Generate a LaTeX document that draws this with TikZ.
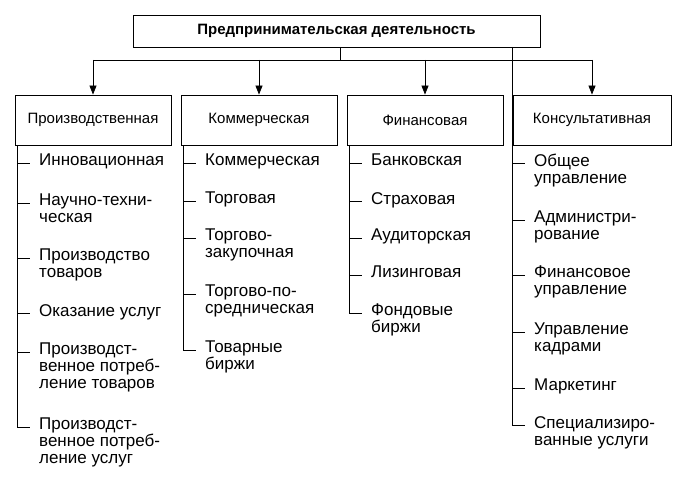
\documentclass[tikz,border=0pt]{standalone}
\usepackage{fontspec}
\setmainfont{Liberation Sans}
\usepackage{tikz}
\usetikzlibrary{arrows.meta}

\tikzset{
  box/.style={draw,line width=0.8pt,minimum height=50pt,inner sep=0pt,font=\fontsize{15}{17}\selectfont},
  item/.style={anchor=north west,inner sep=0pt,align=left,font=\fontsize{17}{17}\selectfont},
  tree/.style={line width=0.8pt},
  link/.style={line width=0.8pt,-{Triangle[length=9pt,width=7pt]}}
}

\begin{document}
\begin{tikzpicture}[x=1pt,y=-1pt]
\useasboundingbox (0,0) rectangle (677,484);
% Top box
\node [box,minimum width=407pt,minimum height=32pt,font=\bfseries\fontsize{15}{17}\selectfont] (top) at (336.5,31) {Предпринимательская деятельность};
% Kinds
\node [box,minimum width=156pt] (prod) at (93,120) {Производственная};
\node [box,minimum width=156pt] (comm) at (259,120) {Коммерческая};
\node [box,minimum width=156pt] (fin) at (425,120) {Финансовая};
\node [box,minimum width=158pt] (cons) at (592,120) {Консультативная};
% Branches
\coordinate (hub) at (340,60);
\draw [tree] (340,47) -- (hub);
\draw [tree] (prod.north |- hub) -- (cons.north |- hub);
\foreach \k in {prod,comm,fin,cons}
  \draw [link] (\k.north |- hub) -- (\k.north);
% Items
\foreach \lx/\entries in {
  17/{163/Инновационная,203/{Научно-техни-\\ческая},258/{Производство\\товаров},313/{Оказание услуг},352/{Производст-\\венное потреб-\\ление товаров},427/{Производст-\\венное потреб-\\ление услуг}},
  183/{163/Коммерческая,201/Торговая,238/{Торгово-\\закупочная},294/{Торгово-по-\\средническая},350/{Товарные\\биржи}},
  349/{163/Банковская,201/Страховая,238/Аудиторская,275/Лизинговая,313/{Фондовые\\биржи}},
  512/{163/{Общее\\управление},220/{Администри-\\рование},275/{Финансовое\\управление},332/{Управление\\кадрами},388/Маркетинг,425/{Специализиро-\\ванные услуги}}}{
  \foreach \y/\t in \entries {
    \draw [tree] (\lx,\y) -- ++(13,0);
    \node [item] at (\lx+22,\y-9) {\t};
  }
}
\draw [tree] (17,145) -- (17,427);
\draw [tree] (183,145) -- (183,350);
\draw [tree] (349,145) -- (349,313);
\draw [tree] (512,47) -- (512,425);
\end{tikzpicture}
\end{document}
